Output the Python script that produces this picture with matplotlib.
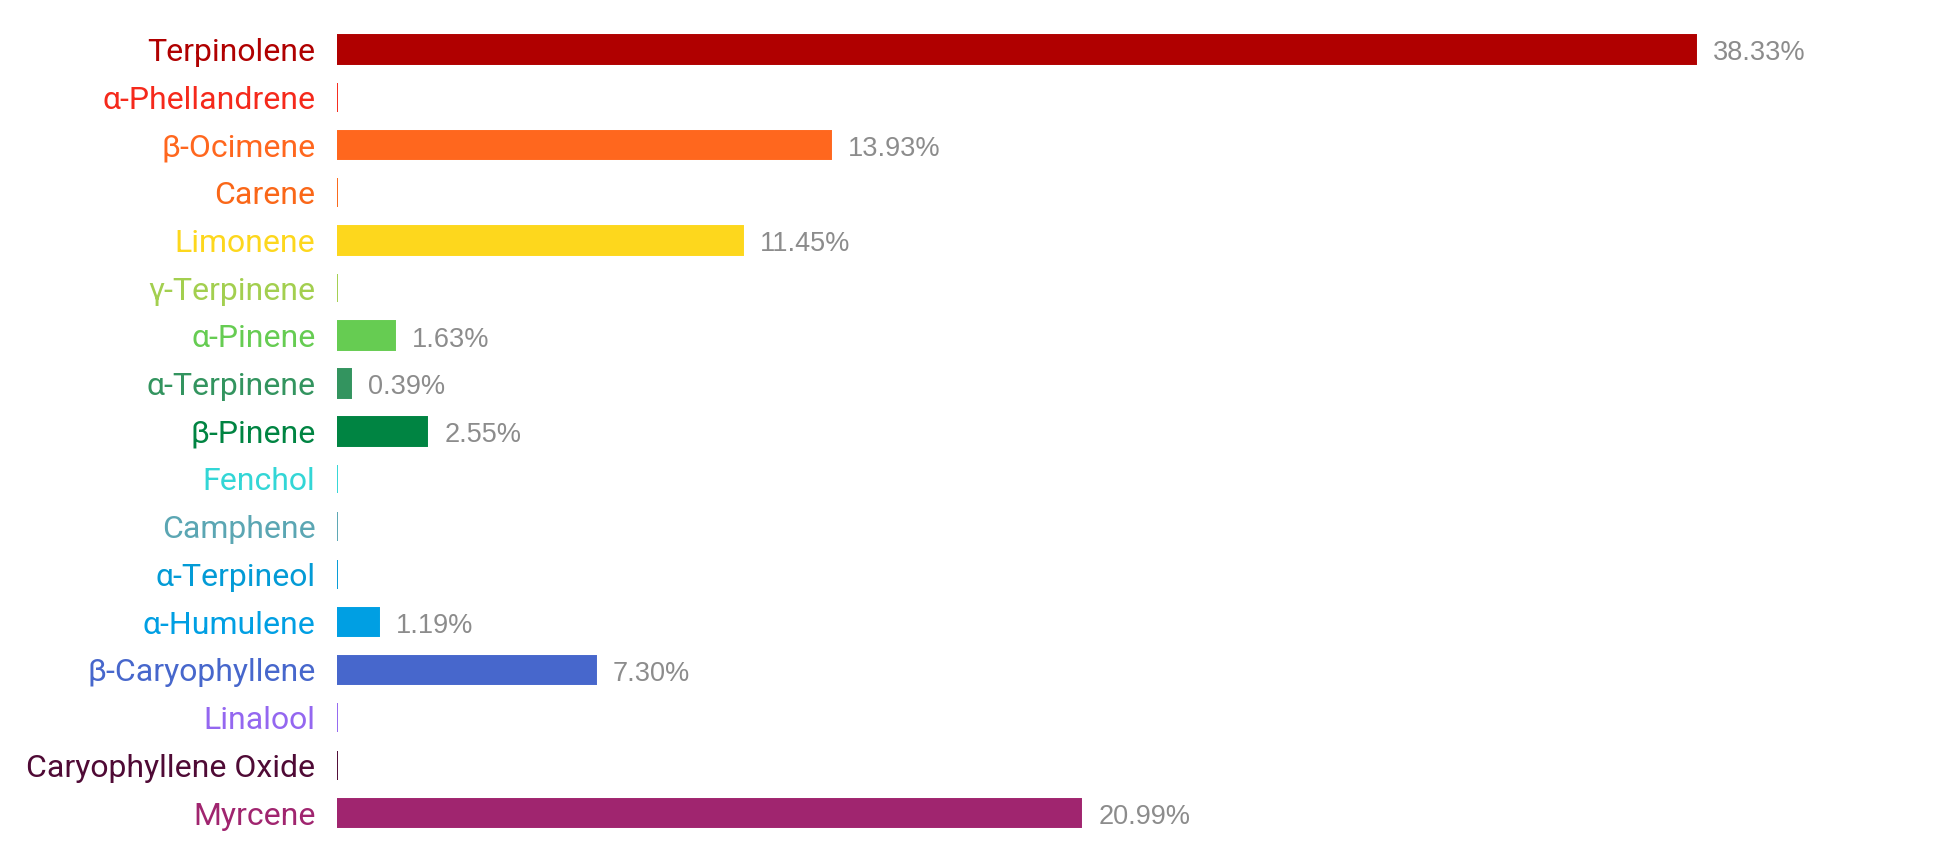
"""Terpene profile: horizontal bar chart of percentage shares."""

import matplotlib
matplotlib.use('Agg')
import matplotlib.pyplot as plt

# Terpene names, top to bottom
terpenes = [
    'Terpinolene', 'α-Phellandrene', 'β-Ocimene', 'Carene', 'Limonene',
    'γ-Terpinene', 'α-Pinene', 'α-Terpinene', 'β-Pinene', 'Fenchol',
    'Camphene', 'α-Terpineol', 'α-Humulene', 'β-Caryophyllene', 'Linalool',
    'Caryophyllene Oxide', 'Myrcene',
]

# Share of total terpenes (%)
shares = [38.33, 0, 13.93, 0, 11.45, 0, 1.63, 0.39, 2.55, 0, 0, 0, 1.19, 7.30, 0, 0, 20.99]

# One colour per terpene, used for bar and label
colors = [
    '#b00000', '#f5291b', '#ff671e', '#fa6718', '#fdd71d',
    '#a3cf4f', '#66cc52', '#33945f', '#008442', '#33d6d6',
    '#5ba6b3', '#039bd6', '#009fe3', '#4767cc', '#9467f0',
    '#4f0a35', '#a0256f',
]

W, H, DPI = 1940, 858, 100
fig = plt.figure(figsize=(W / DPI, H / DPI), dpi=DPI)

# Axes placed so bars start right of the labels
x0, x1 = 337, 1900
y_top, y_bot = 25.6, 836.9
ax = fig.add_axes([x0 / W, 1 - y_bot / H, (x1 - x0) / W, (y_bot - y_top) / H])

px_per_pct = (1696 - x0) / 38.33
ax.set_xlim(0, (x1 - x0) / px_per_pct)
ax.set_ylim(len(terpenes) - 0.5, -0.5)

ypos = list(range(len(terpenes)))
for y, v, c in zip(ypos, shares, colors):
    # zero values still show as a thin line thanks to the edge
    ax.barh(y, v, height=0.6, color=c, edgecolor=c, linewidth=1.4)
    if v > 0:
        ax.text(v + 17 / px_per_pct, y + 0.08, f'{v:.2f}%', va='center', ha='left',
                fontsize=19.5, color='#8c8c8c', family='Liberation Sans')

ax.set_yticks(ypos)
ax.set_yticklabels(terpenes, fontsize=23, family='Roboto')
for lbl, c in zip(ax.get_yticklabels(), colors):
    lbl.set_color(c)
ax.tick_params(axis='y', length=0, pad=15.5)
ax.set_xticks([])
for s in ax.spines.values():
    s.set_visible(False)

fig.savefig('out.png', dpi=DPI)
plt.close(fig)
